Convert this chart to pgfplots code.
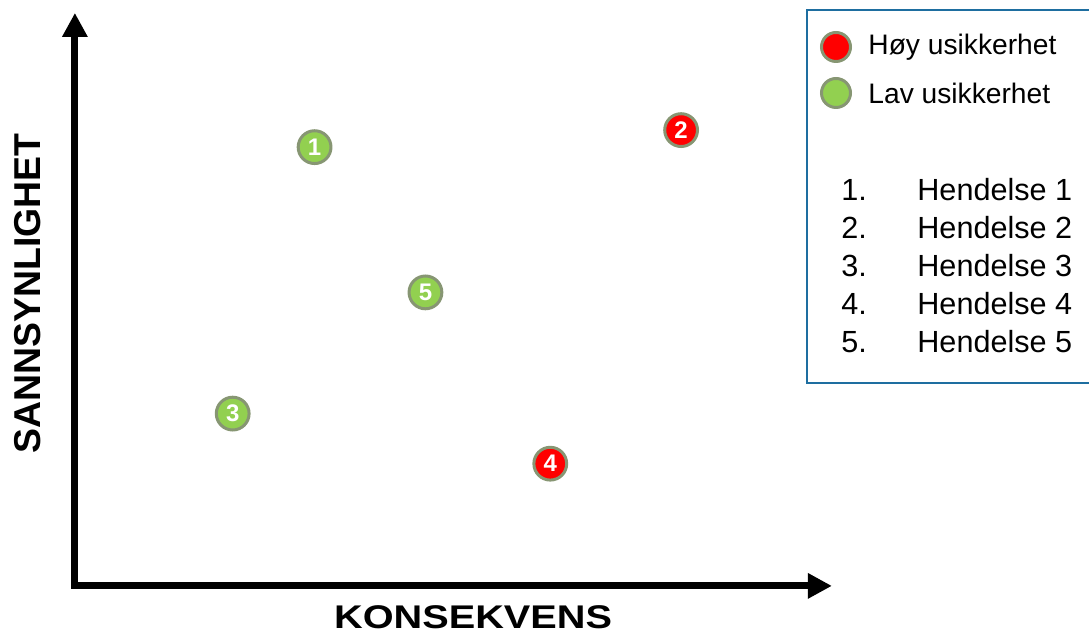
\documentclass[border=0pt]{standalone}
\usepackage{fontspec}
\setmainfont{Liberation Sans}
\usepackage{pgfplots}
\pgfplotsset{compat=1.18}
\usetikzlibrary{arrows.meta}
\definecolor{hoy}{RGB}{255,0,0}
\definecolor{lav}{RGB}{146,208,80}
\definecolor{rim}{RGB}{135,150,115}
\definecolor{boxblue}{RGB}{30,110,160}
\begin{document}
\begin{tikzpicture}[x=0.5pt,y=0.5pt]
\clip (0,0) rectangle (1089,635);
\begin{axis}[
  at={(75,49)}, anchor=south west, scale only axis,
  width=378.5pt, height=286.5pt,
  xmin=0, xmax=758, ymin=0, ymax=572,
  enlargelimits=false, clip=false,
  axis lines=left, xtick=\empty, ytick=\empty,
  axis line style={line width=3.5pt, line cap=rect, -{Triangle[width=12pt,length=12pt]}},
  xlabel={\fontsize{16.4}{19}\selectfont\bfseries KONSEKVENS},
  ylabel={\fontsize{18.7}{22}\selectfont\bfseries SANNSYNLIGHET},
  xlabel style={at={(axis description cs:0.526,0)}, anchor=center, yshift=-15.5pt, xscale=1.21},
  ylabel style={at={(axis description cs:0,0.51)}, anchor=center, yshift=23.5pt},
  point meta=explicit symbolic,
  nodes near coords,
  every node near coord/.append style={anchor=center, inner sep=0pt, text=white,
    font=\fontsize{12}{14}\selectfont\bfseries},
]
\addplot[only marks, mark=*, mark size=8.2pt,
  mark options={fill=hoy, draw=rim, line width=1.5pt}]
  table[meta=lab] {
x y lab
607 455 2
476 122 4
};
\addplot[only marks, mark=*, mark size=8.2pt,
  mark options={fill=lav, draw=rim, line width=1.5pt}]
  table[meta=lab] {
x y lab
240 438 1
158 172 3
351 293 5
};
\end{axis}
% legend box
\draw[boxblue, line width=1.25pt] (807,625) rectangle (1100,252);
\filldraw[fill=hoy, draw=rim, line width=1.5pt] (836,588) circle (14.5);
\filldraw[fill=lav, draw=rim, line width=1.5pt] (836,542) circle (14.5);
\node[anchor=west, inner sep=0pt, font=\fontsize{14.1}{16}\selectfont] at (868,588) {Høy usikkerhet};
\node[anchor=west, inner sep=0pt, font=\fontsize{14.1}{16}\selectfont] at (868,542) {Lav usikkerhet};
\foreach \i/\yy in {1/445,2/407,3/369,4/331,5/293}{
  \node[anchor=west, inner sep=0pt, font=\fontsize{15.3}{17}\selectfont] at (841,\yy) {\i.};
  \node[anchor=west, inner sep=0pt, font=\fontsize{15.3}{17}\selectfont] at (917,\yy) {Hendelse \i};
}
\end{tikzpicture}
\end{document}
